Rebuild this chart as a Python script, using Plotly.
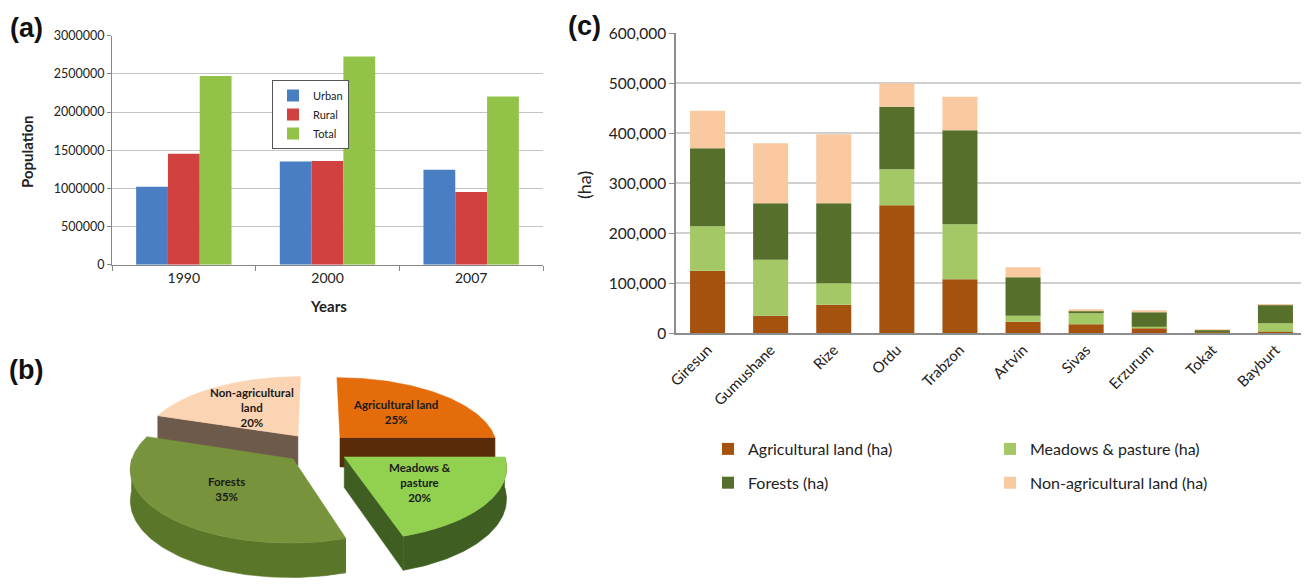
import numpy as np
import plotly.graph_objects as go

# ---------------- data ----------------
years = ["1990", "2000", "2007"]
urban = [1020000, 1352000, 1243000]
rural = [1452000, 1360000, 951000]
total = [2473000, 2726000, 2202000]

land_types = ["Agricultural land", "Meadows & pasture", "Forests", "Non-agricultural land"]
land_label_text = ["Agricultural land", "Meadows &<br>pasture", "Forests", "Non-agricultural<br>land"]
land_share = [25, 20, 35, 20]

provinces = ["Giresun", "Gumushane", "Rize", "Ordu", "Trabzon",
             "Artvin", "Sivas", "Erzurum", "Tokat", "Bayburt"]
agri = [125000, 35000, 57000, 256000, 108000, 23000, 18000, 10000, 3000, 3000]
meadow = [89000, 112000, 43000, 72000, 110000, 12000, 22000, 3000, 500, 17000]
forest = [156000, 113000, 160000, 125000, 188000, 77000, 5000, 29000, 3000, 37000]
nonagri = [75000, 120000, 138000, 47000, 67000, 20000, 2000, 4000, 500, 1000]

# ---------------- helpers ----------------
OFF = 8                      # page body margin of the browser
W, H = 1309 - OFF, 584 - OFF
def px(x):
    return (x - OFF) / W
def py(y):
    return 1 - (y - OFF) / H

FONT = "Lato"
fig = go.Figure()

# ---------------- panel (a) ----------------
for name, vals, col in [("Urban", urban, "#4A7EC2"),
                        ("Rural", rural, "#D0413F"),
                        ("Total", total, "#93C248")]:
    fig.add_trace(go.Bar(x=years, y=vals, name=name,
                         marker=dict(color=col, line=dict(width=0)),
                         xaxis="x", yaxis="y", legend="legend"))

# ---------------- panel (c) ----------------
c_series = [("Agricultural land (ha)", agri, "#A5520F", "legend2"),
            ("Meadows & pasture (ha)", meadow, "#A4C866", "legend3"),
            ("Forests (ha)", forest, "#566F2B", "legend2"),
            ("Non-agricultural land (ha)", nonagri, "#F9C9A0", "legend3")]
base = np.zeros(len(provinces))
for name, vals, col, lg in c_series:
    v = np.array(vals, dtype=float)
    fig.add_trace(go.Bar(x=provinces, y=v, base=base.copy(), name=name,
                         offsetgroup="c", width=0.555,
                         marker=dict(color=col, line=dict(width=0)),
                         xaxis="x2", yaxis="y2", legend=lg, legendgroup=name))
    base = base + v

# ---------------- panel (b): exploded 3-D pie ----------------
top_cols = ["#E46C0A", "#92D050", "#77933C", "#FBD4B4"]
side_cols = ["#5A2B08", "#3F5F22", "#5A7629", "#6D5A4B"]
cx, cy, rx, ry, depth, persp, expl = 317, 448, 158, 72, 30, 0.13, 0.21

def proj(x, z, drop=0.0):
    s = 1 + persp * z
    return cx + rx * x * s, cy + ry * z * s + drop * s

fr = np.array(land_share, dtype=float) / np.sum(land_share)
edges = np.concatenate([[0], np.cumsum(fr)]) * 2 * np.pi
slices = []
for i in range(len(land_share)):
    t0, t1 = edges[i], edges[i + 1]
    bis = (t0 + t1) / 2
    ox, oz = expl * np.sin(bis), -expl * np.cos(bis)
    slices.append((i, t0, t1, bis, ox, oz))

def add_poly(xs, ys, col):
    fig.add_trace(go.Scatter(x=xs, y=ys, mode="lines", fill="toself",
                             fillcolor=col, line=dict(color=col, width=0.6),
                             hoverinfo="skip", showlegend=False,
                             xaxis="x3", yaxis="y3"))

pie_annots = []
for (i, t0, t1, bis, ox, oz) in sorted(slices, key=lambda s: -np.cos(s[3])):
    # outer wall (front-facing part of the rim)
    a, b = max(t0, np.pi / 2), min(t1, 3 * np.pi / 2)
    if b > a:
        th = np.linspace(a, b, 80)
        X0, Y0 = proj(ox + np.sin(th), oz - np.cos(th))
        X1, Y1 = proj(ox + np.sin(th), oz - np.cos(th), depth)
        add_poly(np.concatenate([X0, X1[::-1]]), np.concatenate([Y0, Y1[::-1]]), side_cols[i])
    # radial cut faces
    for t, visible in [(t0, np.sin(t0) < -1e-6), (t1, np.sin(t1) > 1e-6)]:
        if visible:
            ax0, ay0 = proj(ox, oz)
            ax1, ay1 = proj(ox, oz, depth)
            ex0, ey0 = proj(ox + np.sin(t), oz - np.cos(t))
            ex1, ey1 = proj(ox + np.sin(t), oz - np.cos(t), depth)
            add_poly([ax0, ex0, ex1, ax1, ax0], [ay0, ey0, ey1, ay1, ay0], side_cols[i])
    # top face
    th = np.linspace(t0, t1, 120)
    Xa, Ya = proj(ox + np.sin(th), oz - np.cos(th))
    Xc, Yc = proj(ox, oz)
    add_poly(np.concatenate([[Xc], Xa, [Xc]]), np.concatenate([[Yc], Ya, [Yc]]), top_cols[i])
    lx, ly = proj(ox + 0.55 * np.sin(bis), oz - 0.55 * np.cos(bis))
    pie_annots.append(dict(x=lx, y=ly, xref="x3", yref="y3", showarrow=False,
                           xanchor="center", yanchor="middle",
                           text=f"<b>{land_label_text[i]}<br>{land_share[i]}%</b>",
                           font=dict(family=FONT, size=11.5, color="#1a1a1a")))

# ---------------- layout ----------------
axis_font = dict(family=FONT, color="#222")
annots = [
    dict(x=px(26), y=py(28), text="<b>(a)</b>", font=dict(family="Liberation Sans", size=27, color="#111")),
    dict(x=px(26), y=py(370), text="<b>(b)</b>", font=dict(family="Liberation Sans", size=27, color="#111")),
    dict(x=px(584), y=py(26), text="<b>(c)</b>", font=dict(family="Liberation Sans", size=27, color="#111")),
    dict(x=px(27), y=py(152), text="<b>Population</b>", textangle=-90, font=dict(family=FONT, size=15, color="#222")),
    dict(x=px(328), y=py(306), text="<b>Years</b>", font=dict(family=FONT, size=15, color="#222")),
    dict(x=px(584), y=py(185), text="(ha)", textangle=-90, font=dict(family=FONT, size=18, color="#222")),
]
for a in annots:
    a.update(xref="paper", yref="paper", showarrow=False, xanchor="center", yanchor="middle")

fig.update_layout(
    width=W, height=H, margin=dict(l=0, r=0, t=0, b=0, autoexpand=False),
    paper_bgcolor="white", plot_bgcolor="white",
    barmode="group", bargap=0.336, bargroupgap=0,
    font=dict(family=FONT, color="#222"),
    xaxis=dict(domain=[px(112), px(543)], anchor="y", type="category", automargin=False,
               showline=True, linecolor="#868686", linewidth=1,
               ticks="outside", tickson="boundaries", ticklen=5, tickcolor="#868686",
               tickfont=dict(axis_font, size=14), showgrid=False),
    yaxis=dict(domain=[py(264.7), py(35.7)], anchor="x", range=[0, 3000000], automargin=False,
               tick0=0, dtick=500000, tickformat="d",
               showgrid=True, gridcolor="#c4c4c4", gridwidth=1.3, zeroline=False,
               showline=True, linecolor="#868686", linewidth=1,
               ticks="outside", ticklen=4, tickcolor="#868686",
               tickfont=dict(axis_font, size=12.5)),
    xaxis2=dict(domain=[px(676), px(1307)], anchor="y2", type="category", automargin=False,
                showline=True, linecolor="#8c8c8c", linewidth=2,
                tickangle=-45, tickfont=dict(axis_font, size=15), showgrid=False),
    yaxis2=dict(domain=[py(333.3), py(33.3)], anchor="x2", range=[0, 600000], automargin=False,
                tick0=0, dtick=100000, tickformat=",",
                showgrid=True, gridcolor="#d0d0d0", gridwidth=2, zeroline=False,
                showline=True, linecolor="#8c8c8c", linewidth=1.5,
                ticks="outside", ticklen=5, tickcolor="#8c8c8c",
                tickfont=dict(axis_font, size=15.5)),
    xaxis3=dict(domain=[px(100), px(530)], range=[100, 530], anchor="y3", visible=False, automargin=False),
    yaxis3=dict(domain=[py(584), py(360)], range=[584, 360], anchor="x3", visible=False, automargin=False),
    legend=dict(x=px(272), y=py(80), xanchor="left", yanchor="top",
                bordercolor="#555", borderwidth=1, bgcolor="white",
                font=dict(family=FONT, size=11, color="#222"), traceorder="normal",
                itemwidth=30),
    legend2=dict(x=px(708), y=py(432), xanchor="left", yanchor="top",
                 font=dict(family=FONT, size=16, color="#222"), traceorder="grouped",
                 tracegroupgap=10, bgcolor="rgba(0,0,0,0)"),
    legend3=dict(x=px(990), y=py(432), xanchor="left", yanchor="top",
                 font=dict(family=FONT, size=16, color="#222"), traceorder="grouped",
                 tracegroupgap=10, bgcolor="rgba(0,0,0,0)"),
    annotations=annots + pie_annots,
)

fig.write_html("out.html")
